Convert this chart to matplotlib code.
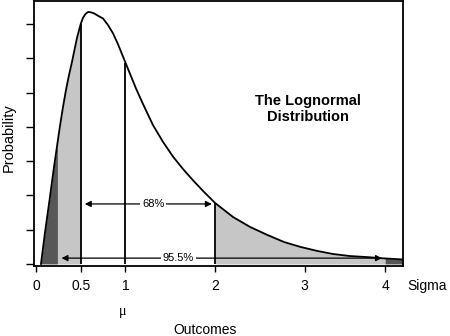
import numpy as np
import matplotlib
matplotlib.use('Agg')
import matplotlib.pyplot as plt

plt.rcParams['font.family'] = ['Liberation Sans', 'DejaVu Sans']

# curve (x in sigma units, y in arbitrary probability units)
curve_x = [0.056, 0.10, 0.156, 0.20, 0.24, 0.268, 0.302, 0.335, 0.369, 0.402,
           0.425, 0.458, 0.50, 0.525, 0.553, 0.581, 0.615, 0.648, 0.693, 0.749,
           0.804, 0.86, 0.916, 1.0, 1.05, 1.117, 1.207, 1.307, 1.419, 1.531,
           1.642, 1.754, 1.866, 2.0, 2.201, 2.391, 2.581, 2.771, 2.95, 3.14,
           3.318, 3.508, 3.698, 3.9, 4.101]
curve_y = [0.0, 0.90, 1.95, 2.80, 3.52, 4.02, 4.58, 5.07, 5.51, 5.89,
           6.18, 6.59, 7.0, 7.18, 7.29, 7.35, 7.34, 7.31, 7.24, 7.16,
           6.97, 6.73, 6.41, 5.87, 5.55, 5.12, 4.6, 4.05, 3.56, 3.13,
           2.77, 2.44, 2.13, 1.78, 1.37, 1.08, 0.85, 0.64, 0.5, 0.38,
           0.29, 0.23, 0.2, 0.16, 0.13]

tail_lo, inner_lo, inner_hi, tail_hi = 0.24, 0.5, 2.0, 3.9
mean_x = 1.0

tick_pos = [0, 0.5, 1, 2, 3, 3.9]
tick_lab = ['0', '0.5', '1', '2', '3', '4']

x = np.array(curve_x)
y = np.array(curve_y)

fig = plt.figure(figsize=(4.5, 3.36), dpi=100)
ax = fig.add_axes([34/450, 1 - 266/336, 369/450, 265/336])

light = '#c6c6c6'
dark = '#575757'
ax.fill_between(x, 0, y, where=(x <= tail_lo), color=dark, lw=0)
ax.fill_between(x, 0, y, where=(x >= tail_lo) & (x <= inner_lo), color=light, lw=0)
ax.fill_between(x, 0, y, where=(x >= inner_hi) & (x <= tail_hi), color=light, lw=0)
ax.fill_between(x, 0, y, where=(x >= tail_hi), color=dark, lw=0)

ax.plot(x, y, color='k', lw=1.3)

for xv in [inner_lo, mean_x, inner_hi]:
    ax.vlines(xv, 0, np.interp(xv, x, y), color='k', lw=1.3)

# arrows
def span_arrow(x0, x1, yv, label, xl):
    ax.annotate('', xy=(x0, yv), xytext=(x1, yv),
                arrowprops=dict(arrowstyle='<|-|>', color='k', lw=0.9,
                                mutation_scale=9, shrinkA=1, shrinkB=1))
    ax.text(xl, yv, label, ha='center', va='center', fontsize=8,
            bbox=dict(facecolor='white', edgecolor='none', pad=1.2))

span_arrow(0.53, 1.98, 1.75, '68%', 1.31)
span_arrow(0.27, 3.88, 0.17, '95.5%', 1.59)

ax.text(3.04, 4.52, 'The Lognormal\nDistribution', ha='center', va='center',
        fontsize=10.5, fontweight='bold', linespacing=1.15)

ax.set_xlim(-0.022, 4.10)
ax.set_ylim(-0.06, 7.67)
ax.set_xticks(tick_pos)
ax.set_xticklabels(tick_lab, fontsize=10)
ax.set_yticks(range(8))
ax.set_yticklabels([])
ax.tick_params(axis='x', direction='out', length=4.5, width=1, pad=5)
ax.tick_params(axis='y', direction='out', length=5.5, width=1)
for s in ax.spines.values():
    s.set_linewidth(1.3)

fig.text(427/450, 1 - 286/336, 'Sigma', ha='center', va='center', fontsize=10)
fig.text(123/450, 1 - 312/336, 'μ', ha='center', va='center', fontsize=10,
         family=['Liberation Serif', 'DejaVu Serif'])
fig.text(205/450, 1 - 330/336, 'Outcomes', ha='center', va='center', fontsize=10)
fig.text(9/450, 1 - 138/336, 'Probability', ha='center', va='center',
         fontsize=10.5, rotation=90)

fig.savefig('out.png', dpi=100)
